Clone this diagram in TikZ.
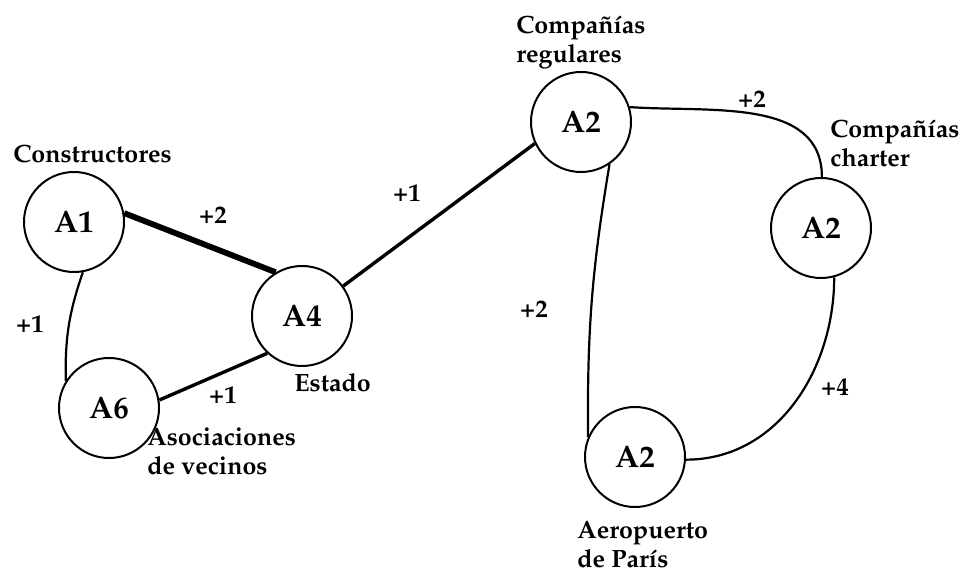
\documentclass[tikz,border=0pt]{standalone}
\usepackage[T1]{fontenc}
\usepackage{mathpazo}
\usepackage{tikz}
\usetikzlibrary{positioning}

\begin{document}
\begin{tikzpicture}[x=0.5pt, y=0.5pt,
    actor/.style={circle, draw, line width=1pt, minimum size=50pt, inner sep=0pt,
      font=\fontsize{15.5}{17}\selectfont\bfseries},
    lbl/.style={font=\fontsize{12.5}{14.5}\selectfont\bfseries, align=left, inner sep=0pt},
    weak/.style={line width=1.1pt},
    medium/.style={line width=1.7pt},
    strong/.style={line width=2.9pt}]
  \useasboundingbox (0,0) rectangle (969,-571);
  % acteurs
  \node[actor] (cons) at (74,-222) {A1};
  \node[actor] (asoc) at (109,-408) {A6};
  \node[actor] (est) at (302,-316) {A4};
  \node[actor] (reg) at (581,-122) {A2};
  \node[actor] (chart) at (821,-228) {A2};
  \node[actor] (aero) at (635,-457) {A2};

  % noms
  \node[lbl, anchor=west] (consname) at (13,-154) {Constructores};
  \node[lbl, anchor=west] (estname) at (294,-383) {Estado};
  \node[lbl, anchor=west] (asocname) at (147,-451) {Asociaciones\\de vecinos};
  \node[lbl, anchor=west] (regname) at (516,-42) {Compa\~n\'{\i}as\\regulares};
  \node[lbl, anchor=west] (chartname) at (830,-143) {Compa\~n\'{\i}as\\charter};
  \node[lbl, anchor=west] (aeroname) at (577,-544) {Aeropuerto\\de Par\'{\i}s};

  % liens
  \draw[strong] (cons.10) -- (est.121);
  \draw[weak] (cons.280) to[bend right=10] (asoc.148);
  \draw[medium] (asoc.9) -- (est.227);
  \draw[medium] (est.36) -- (reg.205);
  \draw[weak] (reg.17) to[out=-4, in=90] (chart.89);
  \draw[weak] (reg.304) to[bend right=5] (aero.157);
  \draw[weak] (chart.285) to[out=-90, in=0] (aero.357);

  % poids
  \node[lbl] (w1) at (213,-215) {+2};
  \node[lbl] (w2) at (30,-324) {+1};
  \node[lbl] (w3) at (223,-395) {+1};
  \node[lbl] (w4) at (407,-193) {+1};
  \node[lbl] (w5) at (752,-99) {+2};
  \node[lbl] (w6) at (534,-309) {+2};
  \node[lbl] (w7) at (835,-387) {+4};
\end{tikzpicture}
\end{document}
